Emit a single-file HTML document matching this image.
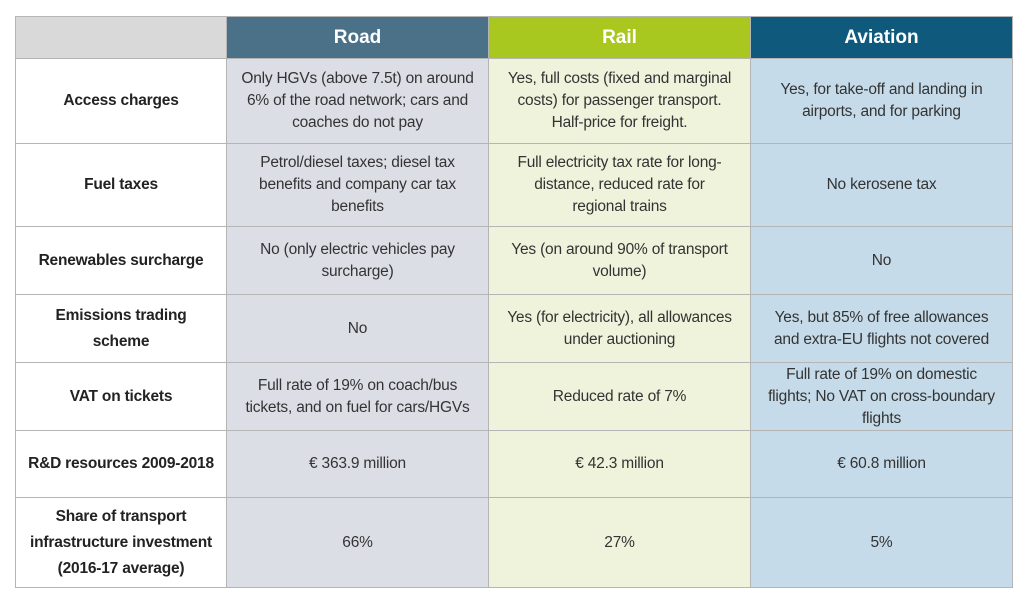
<!DOCTYPE html>
<html><head><style>
body{margin:0;background:#fff;width:1024px;height:603px;overflow:hidden;font-family:"Liberation Sans",sans-serif;}
table{position:absolute;left:15px;top:16px;border-collapse:collapse;table-layout:fixed;}
td,th{border:1px solid #b5b5b5;text-align:center;vertical-align:middle;font-size:15.5px;line-height:22px;color:#333;padding:0 2px;white-space:nowrap;letter-spacing:-0.2px;}
th{color:#fff;font-size:19px;font-weight:bold;letter-spacing:0;}
td.l{font-weight:bold;color:#222;background:#fff;}
.r{background:#dcdee6}.ra{background:#eff3dc}.a{background:#c6dbe9}
</style></head><body>
<table>
<colgroup><col style="width:211px"><col style="width:262px"><col style="width:262px"><col style="width:262px"></colgroup>
<tr style="height:42px"><th style="background:#d9d9d9"></th><th style="background:#4a7188">Road</th><th style="background:#a9c81f">Rail</th><th style="background:#0f5a7c">Aviation</th></tr>
<tr style="height:85px"><td class="l">Access charges</td><td class="r">Only HGVs (above 7.5t) on around<br>6% of the road network; cars and<br>coaches do not pay</td><td class="ra">Yes, full costs (fixed and marginal<br>costs) for passenger transport.<br>Half-price for freight.</td><td class="a">Yes, for take-off and landing in<br>airports, and for parking</td></tr>
<tr style="height:83px"><td class="l">Fuel taxes</td><td class="r">Petrol/diesel taxes; diesel tax<br>benefits and company car tax<br>benefits</td><td class="ra">Full electricity tax rate for long-<br>distance, reduced rate for<br>regional trains</td><td class="a">No kerosene tax</td></tr>
<tr style="height:68px"><td class="l">Renewables surcharge</td><td class="r">No (only electric vehicles pay<br>surcharge)</td><td class="ra">Yes (on around 90% of transport<br>volume)</td><td class="a">No</td></tr>
<tr style="height:68px"><td class="l" style="line-height:26px">Emissions trading<br>scheme</td><td class="r">No</td><td class="ra">Yes (for electricity), all allowances<br>under auctioning</td><td class="a">Yes, but 85% of free allowances<br>and extra-EU flights not covered</td></tr>
<tr style="height:68px"><td class="l">VAT on tickets</td><td class="r">Full rate of 19% on coach/bus<br>tickets, and on fuel for cars/HGVs</td><td class="ra">Reduced rate of 7%</td><td class="a">Full rate of 19% on domestic<br>flights; No VAT on cross-boundary<br>flights</td></tr>
<tr style="height:67px"><td class="l">R&amp;D resources 2009-2018</td><td class="r">€ 363.9 million</td><td class="ra">€ 42.3 million</td><td class="a">€ 60.8 million</td></tr>
<tr style="height:90px"><td class="l" style="line-height:26px">Share of transport<br>infrastructure investment<br>(2016-17 average)</td><td class="r">66%</td><td class="ra">27%</td><td class="a">5%</td></tr>
</table>
</body></html>
